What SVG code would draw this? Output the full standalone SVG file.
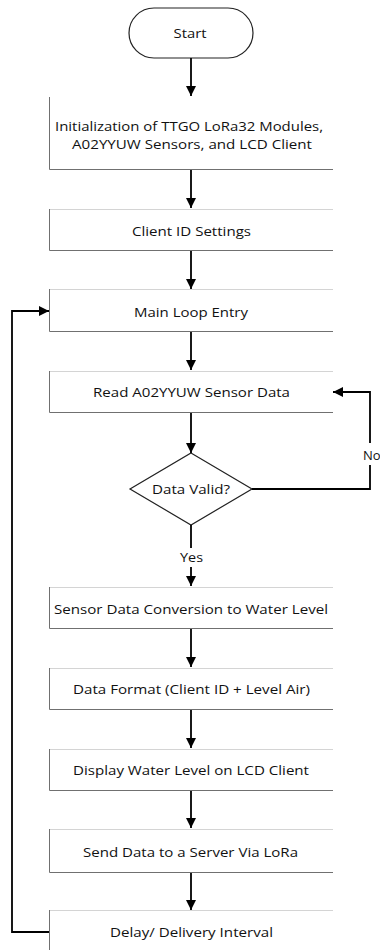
<svg xmlns="http://www.w3.org/2000/svg" width="380" height="950" viewBox="0 0 380 950">
<defs>
<marker id="ah" viewBox="0 0 10 10" refX="10" refY="5" markerWidth="10" markerHeight="10" markerUnits="userSpaceOnUse" orient="auto">
<path d="M0,0 L10,5 L0,10 Z" fill="#000"/>
</marker>
<style>
.t{font-family:"Open Sans","Liberation Sans",Arial,sans-serif;font-size:13px;fill:#111;text-anchor:middle;dominant-baseline:central}
.box{fill:#fff;stroke:none}
.bl{stroke:#707070;stroke-width:1;fill:none}
.bt{stroke:#d4d4d4;stroke-width:1;fill:none}
.c{stroke:#000;stroke-width:1.8;fill:none}
.ca{stroke:#000;stroke-width:1.8;fill:none;marker-end:url(#ah)}
</style>
</defs>
<rect width="380" height="950" fill="#fff"/>
<g id="start">
<rect x="129" y="8" width="124" height="50" rx="25" ry="25" fill="#fff" stroke="#222" stroke-width="1.2"/>
<text class="t" x="190" y="33" textLength="33" lengthAdjust="spacingAndGlyphs">Start</text>
</g>
<g id="init">
<rect class="box" x="49" y="97" width="284" height="72"/>
<path class="bl" d="M49.5,97 V169.5 H333"/>
<text class="t" x="189" y="126" textLength="268" lengthAdjust="spacingAndGlyphs">Initialization of TTGO LoRa32 Modules,</text>
<text class="t" x="192" y="144" textLength="240" lengthAdjust="spacingAndGlyphs">A02YYUW Sensors, and LCD Client</text>
</g>
<g id="clientid">
<path class="bt" d="M49,209.5 H333"/>
<path class="bl" d="M49.5,209 V250.5 H333"/>
<text class="t" x="191.5" y="231" textLength="119" lengthAdjust="spacingAndGlyphs">Client ID Settings</text>
</g>
<g id="mainloop">
<path class="bt" d="M49,289.5 H333"/>
<path class="bl" d="M49.5,289 V331.5 H333"/>
<text class="t" x="191" y="312" textLength="114" lengthAdjust="spacingAndGlyphs">Main Loop Entry</text>
</g>
<g id="read">
<path class="bt" d="M49,371.5 H333"/>
<path class="bl" d="M49.5,371 V412.5 H333"/>
<text class="t" x="191.5" y="392" textLength="197" lengthAdjust="spacingAndGlyphs">Read A02YYUW Sensor Data</text>
</g>
<g id="valid">
<polygon points="191,453 252,489 191,525 130,489" fill="#fff" stroke="#222" stroke-width="1.2"/>
<text class="t" x="191" y="489" textLength="78" lengthAdjust="spacingAndGlyphs">Data Valid?</text>
</g>
<g id="convert">
<path class="bt" d="M49,587.5 H333"/>
<path class="bl" d="M49.5,587 V628.5 H333"/>
<text class="t" x="191" y="609" textLength="274" lengthAdjust="spacingAndGlyphs">Sensor Data Conversion to Water Level</text>
</g>
<g id="format">
<path class="bt" d="M49,668.5 H333"/>
<path class="bl" d="M49.5,668 V709.5 H333"/>
<text class="t" x="191.5" y="689" textLength="237" lengthAdjust="spacingAndGlyphs">Data Format (Client ID + Level Air)</text>
</g>
<g id="display">
<path class="bt" d="M49,749.5 H333"/>
<path class="bl" d="M49.5,749 V790.5 H333"/>
<text class="t" x="191" y="770" textLength="236" lengthAdjust="spacingAndGlyphs">Display Water Level on LCD Client</text>
</g>
<g id="send">
<path class="bt" d="M49,829.5 H333"/>
<path class="bl" d="M49.5,829 V872.5 H333"/>
<text class="t" x="190.5" y="852" textLength="215" lengthAdjust="spacingAndGlyphs">Send Data to a Server Via LoRa</text>
</g>
<g id="delay">
<path class="bt" d="M49,910.5 H333"/>
<path class="bl" d="M49.5,910 V950"/>
<text class="t" x="191.5" y="932" textLength="163" lengthAdjust="spacingAndGlyphs">Delay/ Delivery Interval</text>
</g>
<g id="connectors">
<path class="ca" d="M191,58 V96"/>
<path class="ca" d="M191,170 V208"/>
<path class="ca" d="M191,251 V289"/>
<path class="ca" d="M191,332 V370"/>
<path class="ca" d="M191,413 V453"/>
<path class="c" d="M191,525 V548"/>
<text class="t" x="191.5" y="557" textLength="23" lengthAdjust="spacingAndGlyphs">Yes</text>
<path class="ca" d="M191,567 V586"/>
<path class="ca" d="M191,629 V667"/>
<path class="ca" d="M191,710 V748"/>
<path class="ca" d="M191,791 V828"/>
<path class="ca" d="M191,873 V910"/>
<path class="c" d="M252,489 H370 V465"/>
<path class="ca" d="M370,443 V392 H333"/>
<text class="t" x="363" y="455" style="text-anchor:start">No</text>
<path class="ca" d="M49,932 H12 V311 H49"/>
</g>
</svg>
